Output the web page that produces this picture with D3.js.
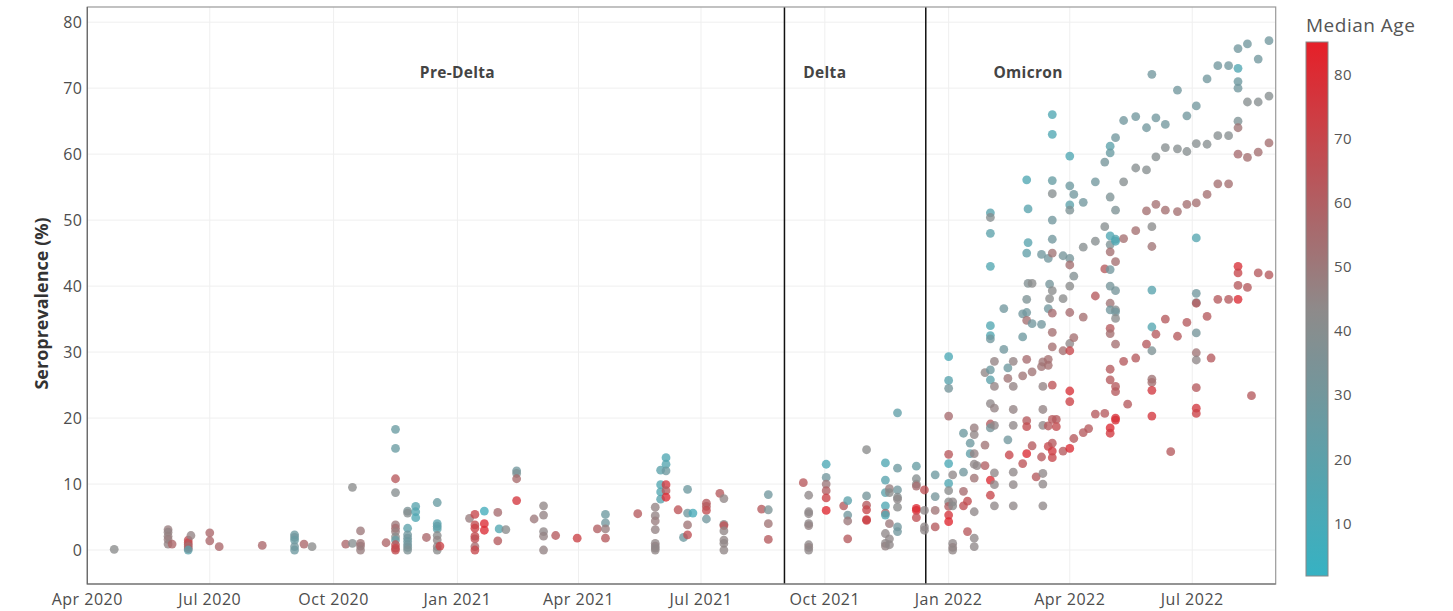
<!DOCTYPE html>
<html>
<head>
<meta charset="utf-8">
<script src="https://cdn.jsdelivr.net/npm/d3@7"></script>
<style>
  body { margin: 0; background: #fff; }
  svg { display: block; font-family: "Open Sans", sans-serif; }
</style>
</head>
<body>
<div id="chart"></div>
<script>
// Seroprevalence by survey date, coloured by median age
// each row: [survey date, [seroprevalence %, median age], ...]
const preDelta = [
  ["2020-04-21", [0.1, 42]],
  ["2020-05-31", [3.1, 48], [2.7, 46], [2.1, 47], [1.6, 48], [0.9, 46]],
  ["2020-06-03", [0.9, 58]],
  ["2020-06-15", [1.5, 66], [1.1, 70], [0.8, 62], [0.5, 55], [0.2, 60], [0.0, 20]],
  ["2020-06-17", [2.2, 46]],
  ["2020-07-01", [2.6, 57], [1.4, 57]],
  ["2020-07-08", [0.5, 57]],
  ["2020-08-09", [0.7, 57]],
  ["2020-09-02", [2.3, 28], [1.9, 30], [1.5, 26], [0.5, 30], [0.0, 28]],
  ["2020-09-09", [0.9, 57]],
  ["2020-09-15", [0.5, 42]],
  ["2020-10-10", [0.9, 57]],
  ["2020-10-15", [9.5, 42], [1.0, 40]],
  ["2020-10-21", [2.9, 50], [1.0, 52], [0.6, 50], [0.0, 48]],
  ["2020-11-09", [1.1, 58]],
  ["2020-11-16", [18.3, 26], [15.4, 26], [10.8, 63], [8.7, 40], [3.8, 50], [3.3, 55], [2.8, 48], [2.0, 42], [1.5, 25], [0.8, 65], [0.3, 70], [0.0, 68]],
  ["2020-11-25", [5.9, 35], [5.6, 40], [3.3, 20], [2.3, 30], [1.8, 30], [1.3, 28], [0.8, 30], [0.4, 32], [0.0, 36]],
  ["2020-12-01", [6.6, 18], [5.8, 16], [4.9, 14]],
  ["2020-12-09", [1.9, 57]],
  ["2020-12-17", [7.2, 26], [4.0, 18], [3.6, 22], [3.2, 20], [2.2, 42], [1.5, 45], [0.5, 44], [0.0, 42]],
  ["2020-12-19", [0.6, 72]],
  ["2021-01-10", [4.8, 48]],
  ["2021-01-14", [5.4, 70], [3.8, 68], [3.3, 72], [2.1, 68], [1.7, 66], [0.5, 55], [0.0, 70]],
  ["2021-01-21", [5.9, 8], [4.0, 80], [3.0, 80]],
  ["2021-01-31", [5.7, 55], [1.4, 62]],
  ["2021-02-01", [3.2, 15]],
  ["2021-02-06", [3.1, 42]],
  ["2021-02-14", [12.0, 30], [11.6, 35], [10.8, 56], [7.5, 76]],
  ["2021-02-27", [4.7, 50]],
  ["2021-03-06", [6.7, 45], [5.3, 46], [2.8, 44], [2.1, 46], [0.0, 46]],
  ["2021-03-15", [2.2, 62]],
  ["2021-03-31", [1.8, 72]],
  ["2021-04-15", [3.2, 60]],
  ["2021-04-21", [5.4, 28], [4.1, 30], [3.2, 48], [1.8, 62]],
  ["2021-05-15", [5.5, 62]],
  ["2021-05-28", [6.5, 46], [5.2, 46], [4.4, 48], [3.1, 46], [1.0, 45], [0.6, 46], [0.3, 44], [0.0, 45]],
  ["2021-06-01", [12.1, 20], [9.9, 15], [8.8, 15], [7.7, 18]],
  ["2021-06-05", [14.0, 14], [13.0, 16], [12.0, 28], [9.9, 75], [9.0, 62], [8.0, 80]],
  ["2021-06-14", [6.1, 65]],
  ["2021-06-18", [1.9, 28]],
  ["2021-06-21", [9.2, 28], [5.6, 30], [3.8, 52], [2.3, 66]],
  ["2021-06-25", [5.6, 10]],
  ["2021-07-05", [7.1, 62], [6.6, 62], [6.0, 68], [4.7, 30]],
  ["2021-07-15", [8.6, 62]],
  ["2021-07-18", [7.8, 45], [3.9, 42], [3.7, 66], [2.9, 45], [1.5, 45], [1.0, 45], [0.0, 45]],
  ["2021-08-15", [6.2, 62]],
  ["2021-08-20", [8.4, 30], [6.1, 35], [4.0, 52], [1.6, 62]]
];

const delta = [
  ["2021-09-15", [10.2, 63]],
  ["2021-09-19", [8.3, 44], [5.8, 44], [5.5, 44], [4.0, 44], [3.7, 46], [0.8, 44], [0.4, 46], [0.0, 44]],
  ["2021-10-02", [13.0, 12], [11.0, 30], [10.0, 50], [9.0, 60], [7.9, 72], [6.0, 82]],
  ["2021-10-15", [6.7, 62]],
  ["2021-10-18", [7.5, 20], [5.3, 30], [4.4, 50], [1.7, 62]],
  ["2021-11-01", [15.2, 42], [8.2, 32], [6.8, 62], [6.1, 70], [4.6, 72], [4.5, 72]],
  ["2021-11-15", [13.2, 14], [10.6, 18], [8.7, 20], [6.7, 14], [5.6, 55], [5.3, 14], [2.5, 44], [1.0, 44], [0.6, 46]],
  ["2021-11-18", [9.3, 48], [8.7, 42], [4.0, 50], [1.7, 44], [0.8, 44]],
  ["2021-11-24", [20.8, 22], [12.4, 28], [9.1, 30], [8.0, 40], [7.7, 44], [6.5, 42], [3.5, 30], [2.8, 30]],
  ["2021-12-08", [12.7, 25], [10.8, 40], [10.0, 42], [9.7, 55], [6.3, 80], [6.0, 80], [4.9, 66]],
  ["2021-12-14", [9.1, 66], [6.0, 44], [3.5, 44], [3.0, 44]]
];

const omicron = [
  ["2021-12-22", [11.4, 28], [8.1, 32], [6.0, 52], [3.5, 62]],
  ["2022-01-01", [29.3, 12], [25.7, 18], [24.5, 32], [20.3, 55], [14.5, 63], [13.1, 12], [10.1, 14], [9.0, 42], [7.3, 42], [6.6, 60], [5.3, 76], [4.3, 82]],
  ["2022-01-04", [11.4, 44], [7.3, 44], [6.7, 42], [1.0, 44], [0.4, 46], [0.0, 45]],
  ["2022-01-12", [17.7, 28], [11.8, 30], [8.9, 55], [6.7, 66]],
  ["2022-01-15", [7.4, 68], [2.8, 63]],
  ["2022-01-17", [16.2, 28], [14.6, 22]],
  ["2022-01-20", [18.5, 48], [17.5, 45], [14.6, 46], [13.0, 44], [10.9, 52], [5.8, 44], [1.8, 44], [0.5, 44]],
  ["2022-01-22", [12.8, 44]],
  ["2022-01-28", [26.9, 45], [15.9, 52], [12.8, 60]],
  ["2022-02-01", [51.1, 18], [50.4, 40], [48.0, 20], [43.0, 15], [34.0, 15], [32.5, 15], [32.0, 30], [27.3, 28], [25.8, 20], [22.2, 44], [19.1, 62], [18.5, 32], [10.6, 80], [8.3, 70]],
  ["2022-02-04", [28.6, 46], [24.8, 46], [21.5, 46], [18.9, 44], [11.7, 44], [9.9, 44], [6.7, 44]],
  ["2022-02-11", [36.6, 30], [30.4, 30]],
  ["2022-02-14", [27.6, 28], [26.0, 52], [16.7, 30]],
  ["2022-02-15", [14.4, 70]],
  ["2022-02-18", [28.6, 46], [24.8, 46], [21.3, 46], [18.9, 44], [11.8, 44], [9.9, 44], [6.7, 44]],
  ["2022-02-25", [35.8, 30], [32.3, 28], [26.4, 52], [13.1, 65]],
  ["2022-02-28", [56.1, 14], [45.0, 22], [38.0, 36], [36.0, 30], [34.8, 54], [28.9, 55], [19.6, 62], [18.7, 68], [14.6, 80]],
  ["2022-03-01", [51.7, 18], [46.6, 18], [40.4, 38]],
  ["2022-03-04", [40.4, 42], [34.3, 30], [27.0, 52], [15.8, 62]],
  ["2022-03-07", [11.1, 62]],
  ["2022-03-11", [44.8, 30], [34.2, 30], [27.8, 52], [14.1, 62]],
  ["2022-03-12", [28.5, 52], [24.8, 46], [21.3, 46], [18.9, 44], [11.6, 44], [10.0, 44], [6.7, 44]],
  ["2022-03-16", [44.2, 30], [36.6, 30], [28.9, 54], [28.0, 54], [18.8, 62], [15.7, 70]],
  ["2022-03-17", [40.3, 32], [38.1, 42]],
  ["2022-03-19", [66.0, 14], [63.0, 14], [56.0, 25], [54.0, 40], [50.0, 30], [47.1, 30], [45.0, 52], [39.3, 42], [35.9, 55], [33.0, 54], [30.8, 54], [25.0, 65], [19.8, 63], [16.2, 63], [15.0, 75], [14.0, 70]],
  ["2022-03-22", [19.8, 62], [18.7, 68]],
  ["2022-03-27", [44.6, 32], [38.1, 42], [30.2, 54], [15.0, 62]],
  ["2022-04-01", [59.7, 14], [55.2, 28], [52.3, 20], [51.5, 36], [44.2, 32], [43.2, 54], [40.0, 42], [36.0, 55], [31.3, 44], [30.2, 70], [24.1, 78], [22.5, 72], [15.4, 80]],
  ["2022-04-04", [53.9, 30], [41.5, 38], [32.2, 54], [16.9, 62]],
  ["2022-04-11", [52.7, 30], [45.9, 40], [35.3, 54], [17.8, 62]],
  ["2022-04-15", [18.4, 62]],
  ["2022-04-20", [55.8, 30], [46.8, 40], [38.5, 62], [20.6, 62]],
  ["2022-04-27", [58.8, 32], [49.0, 40], [42.6, 62], [20.7, 62]],
  ["2022-05-01", [61.2, 20], [60.2, 26], [53.5, 36], [47.6, 14], [46.3, 36], [45.2, 54], [42.5, 30], [40.0, 32], [37.4, 52], [36.4, 30], [33.6, 62], [32.8, 54], [27.4, 62], [25.8, 62], [18.5, 80], [17.7, 75]],
  ["2022-05-05", [62.5, 30], [51.5, 36], [47.1, 16], [46.8, 14], [43.7, 54], [39.3, 32], [36.4, 40], [36.1, 30], [35.1, 42], [31.2, 54], [24.8, 62], [24.0, 62], [20.0, 78], [19.7, 78]],
  ["2022-05-11", [65.1, 30], [55.8, 40], [47.2, 54], [28.6, 62]],
  ["2022-05-14", [22.1, 62]],
  ["2022-05-20", [65.7, 30], [57.9, 40], [48.4, 54], [29.1, 62]],
  ["2022-05-28", [64.0, 30], [57.6, 40], [51.4, 54], [31.2, 62]],
  ["2022-06-01", [72.1, 30], [49.0, 42], [46.0, 52], [39.4, 18], [33.8, 16], [30.2, 36], [25.9, 52], [25.4, 54], [24.2, 75], [20.3, 76]],
  ["2022-06-04", [65.5, 30], [59.6, 40], [52.4, 54], [32.7, 62]],
  ["2022-06-11", [64.5, 30], [61.0, 40], [51.5, 54], [35.0, 62]],
  ["2022-06-15", [14.9, 62]],
  ["2022-06-20", [69.7, 30], [60.8, 40], [51.3, 54], [32.4, 62]],
  ["2022-06-27", [65.8, 30], [60.4, 40], [52.4, 54], [34.5, 62]],
  ["2022-07-04", [67.3, 30], [61.6, 40], [52.6, 54], [47.3, 16], [38.9, 30], [37.5, 36], [37.4, 62], [32.9, 32], [29.9, 52], [28.8, 44], [24.6, 62], [21.5, 75], [20.7, 72]],
  ["2022-07-12", [71.4, 30], [61.5, 40], [53.9, 54], [35.4, 62]],
  ["2022-07-15", [29.1, 62]],
  ["2022-07-20", [73.4, 30], [62.8, 40], [55.5, 54], [38.0, 62]],
  ["2022-07-28", [73.4, 30], [62.8, 40], [55.5, 54], [38.0, 62]],
  ["2022-08-04", [76.0, 30], [73.0, 14], [71.0, 28], [70.0, 30], [65.0, 36], [64.0, 52], [60.0, 55], [43.0, 78], [42.0, 70], [40.1, 62], [38.0, 80]],
  ["2022-08-11", [76.7, 30], [67.9, 40], [59.5, 54], [39.8, 62]],
  ["2022-08-14", [23.4, 62]],
  ["2022-08-19", [74.4, 30], [67.9, 40], [60.3, 54], [42.0, 62]],
  ["2022-08-27", [77.2, 30], [68.8, 40], [61.7, 54], [41.7, 62]]
];

// variant periods: label, label anchor date, start of period
const variantNames = ["Pre-Delta", "Delta", "Omicron"];
const variantLabelDates = ["2021-01-01", "2021-10-01", "2022-03-01"];
const variantStarts = ["2021-09-01", "2021-12-15"];
const labelValue = 72.3;

const yTicks = [0, 10, 20, 30, 40, 50, 60, 70, 80];
const ageTicks = [10, 20, 30, 40, 50, 60, 70, 80];
const ageDomain = [1.8, 43, 85.1];
const ageColors = ["#36b2c3", "#8d8b8b", "#e61f28"];

const W = 1453, H = 611;
const plot = { left: 87.3, right: 1275.7, top: 7, bottom: 584 };
const parse = d3.timeParse("%Y-%m-%d");

const points = [preDelta, delta, omicron].flat()
  .flatMap(([date, ...vals]) => vals.map(([v, age]) => ({ date: parse(date), v, age })));

const svg = d3.select("#chart").append("svg")
  .attr("width", W)
  .attr("height", H);

svg.append("rect").attr("width", W).attr("height", H).attr("fill", "#fff");

const x = d3.scaleTime()
  .domain([parse("2020-04-01"), parse("2022-09-01")])
  .range([plot.left, plot.right]);
const y = d3.scaleLinear().domain([-5.15, 82.3]).range([plot.bottom, plot.top]);
const color = d3.scaleLinear().domain(ageDomain).range(ageColors).interpolate(d3.interpolateRgb);

const xTicks = d3.timeMonth.every(3).range(parse("2020-04-01"), parse("2022-08-01"));

// grid
const grid = svg.append("g");
grid.selectAll(".gy").data(yTicks).enter().append("line")
  .attr("x1", plot.left).attr("x2", plot.right)
  .attr("y1", d => y(d)).attr("y2", d => y(d))
  .attr("stroke", "#efefef").attr("stroke-width", 1);
grid.selectAll(".gx").data(xTicks).enter().append("line")
  .attr("x1", d => x(d)).attr("x2", d => x(d))
  .attr("y1", plot.top).attr("y2", plot.bottom)
  .attr("stroke", "#efefef").attr("stroke-width", 1);

// tick labels
svg.append("g").selectAll("text").data(yTicks).enter().append("text")
  .attr("x", plot.left - 5)
  .attr("y", d => y(d))
  .attr("dy", "0.35em")
  .attr("text-anchor", "end")
  .attr("font-size", 16)
  .attr("letter-spacing", 0.4)
  .attr("fill", "#4d4d4d")
  .text(d => d);

svg.append("g").selectAll("text").data(xTicks).enter().append("text")
  .attr("x", d => x(d))
  .attr("y", 599)
  .attr("dy", "0.35em")
  .attr("text-anchor", "middle")
  .attr("font-size", 16)
  .attr("letter-spacing", 0.5)
  .attr("fill", "#4d4d4d")
  .text(d3.timeFormat("%b %Y"));

svg.append("text")
  .attr("transform", `translate(42,${(plot.top + plot.bottom) / 2 + 8}) rotate(-90)`)
  .attr("dy", "0.35em")
  .attr("text-anchor", "middle")
  .attr("font-size", 18)
  .attr("font-weight", "bold")
  .attr("fill", "#333")
  .text("Seroprevalence (%)");

// variant boundaries and labels
svg.append("g").selectAll("line").data(variantStarts).enter().append("line")
  .attr("x1", d => x(parse(d))).attr("x2", d => x(parse(d)))
  .attr("y1", plot.top).attr("y2", plot.bottom)
  .attr("stroke", "#111").attr("stroke-width", 1.5);

svg.append("g").selectAll("text").data(variantNames).enter().append("text")
  .attr("x", (d, i) => x(parse(variantLabelDates[i])))
  .attr("y", y(labelValue))
  .attr("dy", "0.35em")
  .attr("text-anchor", "middle")
  .attr("font-size", 15.5)
  .attr("letter-spacing", 0.3)
  .attr("font-weight", "bold")
  .attr("fill", "#444")
  .text(d => d);

// points
svg.append("g").selectAll("circle").data(points).enter().append("circle")
  .attr("cx", d => x(d.date))
  .attr("cy", d => y(d.v))
  .attr("r", 4.4)
  .attr("fill", d => color(d.age))
  .attr("fill-opacity", 0.78);

// panel border
svg.append("rect")
  .attr("x", plot.left).attr("y", plot.top)
  .attr("width", plot.right - plot.left).attr("height", plot.bottom - plot.top)
  .attr("fill", "none").attr("stroke", "#999").attr("stroke-width", 1.2);
svg.append("path")
  .attr("d", `M${plot.left},${plot.top}V${plot.bottom}H${plot.right}`)
  .attr("fill", "none").attr("stroke", "#666").attr("stroke-width", 1.2);

// colour bar legend
const bar = { x: 1306, w: 22, top: 42, bottom: 576 };
const ageY = d3.scaleLinear().domain([ageDomain[0], ageDomain[2]]).range([bar.bottom, bar.top]);

const grad = svg.append("defs").append("linearGradient")
  .attr("id", "ageGrad")
  .attr("x1", 0).attr("y1", 1).attr("x2", 0).attr("y2", 0);
grad.selectAll("stop").data(d3.range(0, 1.0001, 0.05)).enter().append("stop")
  .attr("offset", d => d)
  .attr("stop-color", d => color(ageDomain[0] + d * (ageDomain[2] - ageDomain[0])));

svg.append("rect")
  .attr("x", bar.x).attr("y", bar.top)
  .attr("width", bar.w).attr("height", bar.bottom - bar.top)
  .attr("fill", "url(#ageGrad)")
  .attr("stroke", "#888").attr("stroke-width", 1);

svg.append("g").selectAll("text").data(ageTicks).enter().append("text")
  .attr("x", bar.x + bar.w + 6)
  .attr("y", d => ageY(d))
  .attr("dy", "0.35em")
  .attr("font-size", 15)
  .attr("letter-spacing", 0.3)
  .attr("fill", "#555")
  .text(d => d);

svg.append("text")
  .attr("x", bar.x)
  .attr("y", 25)
  .attr("dy", "0.35em")
  .attr("font-size", 19)
  .attr("letter-spacing", 0.5)
  .attr("fill", "#555")
  .text("Median Age");
</script>
</body>
</html>
